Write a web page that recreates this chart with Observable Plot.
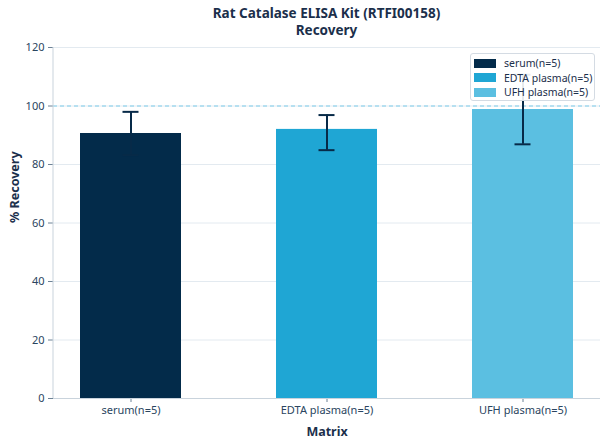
<!DOCTYPE html>
<html><head><meta charset="utf-8">
<script src="https://cdn.jsdelivr.net/npm/d3@7"></script>
<script src="https://cdn.jsdelivr.net/npm/@observablehq/plot@0.6"></script>
<style>
body{margin:0;background:#fff;font-family:"Noto Sans",sans-serif;}
#wrap{position:relative;width:608px;height:444px;}
#title{position:absolute;left:53px;width:547px;top:5px;text-align:center;font-weight:bold;font-size:13.5px;line-height:17px;color:#1b2f4b;}
#legend{position:absolute;left:470px;top:53px;width:123px;height:46px;border:1px solid #d4dbe3;border-radius:3px;background:rgba(255,255,255,0.9);font-size:10.5px;color:#1b2f4b;}
.row{position:absolute;left:3px;height:14px;display:flex;align-items:center;}
.sw{width:22px;height:9px;margin-right:8px;}
</style></head>
<body><div id="wrap"><div id="chart"></div><div id="title">Rat Catalase ELISA Kit (RTFI00158)<br>Recovery</div><div id="legend"></div></div>
<script>
const categories = ["serum(n=5)", "EDTA plasma(n=5)", "UFH plasma(n=5)"];
const means = [90.6, 92.0, 98.8];
const errLow = [83.2, 84.9, 86.9];
const errHigh = [98.0, 96.9, 110.7];
const colors = ["#032b4a", "#1fa6d4", "#5bbfe1"];
const yTicks = [0, 20, 40, 60, 80, 100, 120];
const refLine = 100;

const data = categories.map((c, i) => ({cat: c, mean: means[i], lo: errLow[i], hi: errHigh[i], color: colors[i]}));
const textColor = "#2a4560";
const errColor = "#072a48";

const chart = Plot.plot({
  width: 608, height: 444,
  marginLeft: 53, marginRight: 8, marginTop: 47, marginBottom: 46,
  style: {fontFamily: "Noto Sans", fontSize: "11px", color: textColor, background: "transparent"},
  x: {type: "band", domain: categories, paddingInner: 0.487, paddingOuter: 0.134, label: null},
  y: {domain: [0, 120], ticks: yTicks, label: null},
  marks: [
    Plot.gridY(yTicks, {stroke: "#e3eaf0", strokeOpacity: 1}),
    Plot.barY(data, {x: "cat", y: "mean", fill: "color"}),
    Plot.ruleY([refLine], {stroke: "#7ccbea", strokeDasharray: "4,3", strokeWidth: 1}),
    Plot.ruleX(data, {x: "cat", y1: "lo", y2: "hi", stroke: errColor, strokeWidth: 2}),
    Plot.tickY(data, {x: "cat", y: "hi", stroke: errColor, strokeWidth: 2, inset: 42.5}),
    Plot.tickY(data, {x: "cat", y: "lo", stroke: errColor, strokeWidth: 2, inset: 42.5}),
    Plot.axisY(yTicks, {tickSize: 5, tickPadding: 4, stroke: "#6d8296", label: null, fill: textColor}),
    Plot.axisX({tickSize: 4, tickPadding: 4, stroke: "#6d8296", label: null, fill: textColor}),
    Plot.ruleY([0], {stroke: "#c9d3dc"}),
    Plot.text(["Matrix"], {frameAnchor: "bottom", dy: 37, fontWeight: "bold", fontSize: 12.5, fill: "#1b2f4b"}),
    Plot.text(["% Recovery"], {frameAnchor: "left", dx: -39, rotate: -90, fontWeight: "bold", fontSize: 12.5, fill: "#1b2f4b"})
  ]
});
document.getElementById("chart").appendChild(chart);

// left spine
const svg = d3.select(chart);
svg.append("line").attr("x1", 53).attr("x2", 53).attr("y1", 47).attr("y2", 398).attr("stroke", "#c9d3dc");

const leg = document.getElementById("legend");
categories.forEach((c, i) => {
  const r = document.createElement("div");
  r.className = "row";
  r.style.top = (2 + i * 14.5) + "px";
  r.innerHTML = `<div class="sw" style="background:${colors[i]}"></div><span>${c}</span>`;
  leg.appendChild(r);
});
</script></body></html>
